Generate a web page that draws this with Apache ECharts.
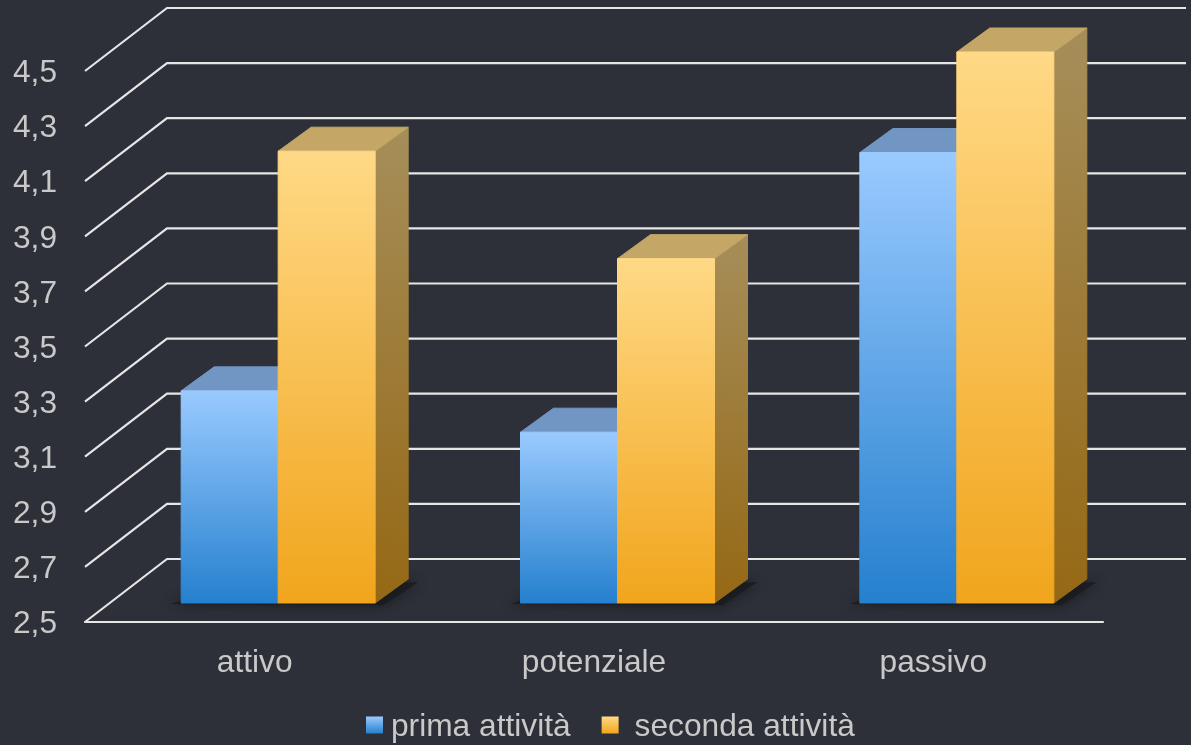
<!DOCTYPE html>
<html>
<head>
<meta charset="utf-8">
<style>html,body{margin:0;padding:0;background:#2d3038}#c{width:1191px;height:745px}</style>
<script src="https://cdn.jsdelivr.net/npm/echarts@6/dist/echarts.min.js"></script>
</head>
<body>
<div id="c"></div>
<script>
const categories = ['attivo', 'potenziale', 'passivo'];
const primaAttivita = [3.27, 3.12, 4.135];
const secondaAttivita = [4.14, 3.75, 4.5];
const tickValues = [2.5, 2.7, 2.9, 3.1, 3.3, 3.5, 3.7, 3.9, 4.1, 4.3, 4.5];

const G = echarts.graphic.LinearGradient;
const chart = echarts.init(document.getElementById('c'), null, {renderer: 'canvas'});

const palette = {
  blue: {top: '#9ACAFF', bottom: '#2580CE', lid: '#7296C4', sideTop: '#7296C4', sideBottom: '#1F6AAA'},
  orange: {top: '#FFD986', bottom: '#F1A51C', lid: '#C4A767', sideTop: '#A68E5A', sideBottom: '#956814'}
};
const barFrac = 97 / 339.33, shiftX = 23.5, shiftY = 19, depthX = 33, depthY = 24;
const labelFont = {color: '#c9c9c9', fontSize: 31.7, fontFamily: 'Liberation Sans'};

function bar(pal, side) {
  return function (params, api) {
    const cat = api.value(0), val = api.value(1);
    const top = api.coord([cat, val]), base = api.coord([cat, tickValues[0]]);
    const w = api.size([1, 0])[0] * barFrac;
    const x0 = top[0] + shiftX + (side < 0 ? -w : 0), x1 = x0 + w;
    const yt = top[1] - shiftY, yb = base[1] - shiftY;
    const sideFill = new G(1, 0, 0, 1, [{offset: 0, color: pal.sideTop}, {offset: 1, color: pal.sideBottom}]);
    const faceFill = new G(0, 0, 0, 1, [{offset: 0, color: pal.top}, {offset: 1, color: pal.bottom}]);
    return {type: 'group', children: [
      {type: 'polygon', shape: {points: [[x1, yt], [x1 + depthX, yt - depthY], [x1 + depthX, yb - depthY], [x1, yb]]},
        style: {fill: sideFill, stroke: sideFill, lineWidth: 1}},
      {type: 'polygon', shape: {points: [[x0, yt], [x0 + depthX, yt - depthY], [x1 + depthX, yt - depthY], [x1, yt]]},
        style: {fill: pal.lid, stroke: pal.lid, lineWidth: 1}},
      {type: 'rect', shape: {x: x0, y: yt, width: w, height: yb - yt},
        style: {fill: faceFill, stroke: faceFill, lineWidth: 1}}
    ]};
  };
}

function wall(params, api) {
  const p = api.coord([0, api.value(0)]);
  const cs = params.coordSys;
  const y = p[1];
  return {type: 'polyline', shape: {points: [[cs.x, y], [cs.x + 82, y - 63], [cs.x + cs.width + 83, y - 63]]},
    style: {fill: null, stroke: '#e6e6e6', lineWidth: 2.2}};
}

function floorShadow(params, api) {
  const cat = api.value(0);
  const base = api.coord([cat, tickValues[0]]);
  const w = api.size([1, 0])[0] * barFrac;
  const x0 = base[0] + shiftX - w, x1 = base[0] + shiftX + w;
  const yb = base[1] - shiftY;
  return {type: 'polygon', shape: {points: [[x0 - 10, yb + 1], [x0 + 20, yb - 10], [x1 + depthX + 10, yb - depthY + 3], [x1 + 8, yb + 2]]},
    style: {fill: 'rgba(26,27,31,0.85)', shadowBlur: 12, shadowColor: 'rgba(20,20,24,0.9)'}};
}

chart.setOption({
  backgroundColor: '#2d3038',
  animation: false,
  textStyle: {fontFamily: 'Liberation Sans'},
  grid: {left: 85, right: 88, top: 71, bottom: 123, containLabel: false},
  xAxis: {
    type: 'category', data: categories,
    axisLine: {show: true, lineStyle: {color: '#e6e6e6', width: 2.2}},
    axisTick: {show: false},
    axisLabel: {...labelFont, margin: 25}
  },
  yAxis: {
    type: 'value', min: tickValues[0], max: tickValues[tickValues.length - 1],
    axisLine: {show: false}, axisTick: {show: false, customValues: tickValues}, splitLine: {show: false},
    axisLabel: {customValues: tickValues, ...labelFont, margin: 28,
      rich: {a: {...labelFont, padding: [5, 0, 0, 0]}},
      formatter: v => '{a|' + v.toFixed(1).replace('.', ',') + '}'}
  },
  legend: {
    left: 366, top: 711, itemWidth: 17, itemHeight: 17, itemGap: 31, padding: 0,
    icon: 'rect',
    formatter: n => n === 'prima attività' ? '{p|' + n + '}' : '{s|' + n + '}',
    textStyle: {...labelFont, rich: {
      p: {...labelFont, padding: [4, 0, 0, 3]},
      s: {...labelFont, padding: [4, 0, 0, 11]}
    }},
    data: [
      {name: 'prima attività', itemStyle: {color: new G(0, 0, 0, 1, [{offset: 0, color: palette.blue.top}, {offset: 1, color: palette.blue.bottom}])}},
      {name: 'seconda attività', itemStyle: {color: new G(0, 0, 0, 1, [{offset: 0, color: palette.orange.top}, {offset: 1, color: palette.orange.bottom}])}}
    ]
  },
  series: [
    {type: 'custom', name: 'griglia', coordinateSystem: 'cartesian2d', silent: true, z: 1, renderItem: wall,
      encode: {y: 0}, data: tickValues.map(v => [v])},
    {type: 'custom', name: 'ombra', coordinateSystem: 'cartesian2d', silent: true, z: 2, renderItem: floorShadow,
      encode: {x: 0}, data: categories.map((c, i) => [i])},
    {type: 'custom', name: 'prima attività', coordinateSystem: 'cartesian2d', z: 3, renderItem: bar(palette.blue, -1),
      itemStyle: {color: palette.blue.bottom}, encode: {x: 0, y: 1}, data: primaAttivita.map((v, i) => [i, v])},
    {type: 'custom', name: 'seconda attività', coordinateSystem: 'cartesian2d', z: 4, renderItem: bar(palette.orange, 1),
      itemStyle: {color: palette.orange.bottom}, encode: {x: 0, y: 1}, data: secondaAttivita.map((v, i) => [i, v])}
  ]
});
</script>
</body>
</html>
